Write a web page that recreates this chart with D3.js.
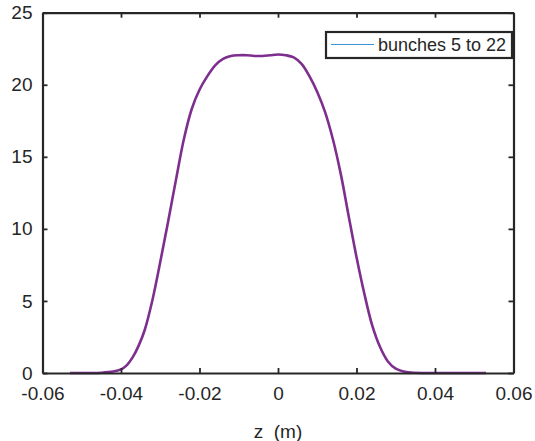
<!DOCTYPE html>
<html><head><meta charset="utf-8">
<script src="https://cdn.jsdelivr.net/npm/d3@7"></script>
<style>body{margin:0;background:#fff}svg{display:block}text{font-family:"Liberation Sans",Arial,Helvetica,sans-serif;fill:#262626}</style>
</head><body>
<script>
const zValues = [-0.053,-0.048,-0.045,-0.042,-0.040,-0.0385,-0.037,-0.0355,-0.034,-0.032,-0.030,-0.028,-0.026,-0.024,-0.022,-0.020,-0.018,-0.016,-0.014,-0.012,-0.010,-0.008,-0.006,-0.004,-0.002,0,0.002,0.004,0.006,0.008,0.010,0.012,0.014,0.016,0.018,0.020,0.022,0.024,0.026,0.028,0.030,0.032,0.034,0.037,0.045,0.053];
const densityValues = [0,0,0.02,0.1,0.25,0.55,1.1,1.9,2.95,5.05,7.7,10.5,13.4,16.2,18.3,19.65,20.6,21.35,21.8,22.0,22.05,22.05,22.0,22.0,22.05,22.1,22.05,21.9,21.45,20.6,19.5,18.1,16.2,13.8,10.9,8.05,5.5,3.3,1.8,0.8,0.3,0.1,0.03,0,0,0];
const xTicks = [-0.06,-0.04,-0.02,0,0.02,0.04,0.06];
const xTickLabels = ["-0.06","-0.04","-0.02","0","0.02","0.04","0.06"];
const yTicks = [0,5,10,15,20,25];
const yTickLabels = ["0","5","10","15","20","25"];
const legendLabel = "bunches 5 to 22";
const xLabel = "z  (m)";

(function(){
const W = 535, H = 441;
const m = {l:42.5, r:21.5, t:12.7, b:68};
const svg = d3.select("body").append("svg").attr("width",W).attr("height",H);
const x = d3.scaleLinear().domain([-0.06,0.06]).range([m.l, W-m.r]);
const y = d3.scaleLinear().domain([0,25]).range([H-m.b, m.t]);
const ax = "#262626", fs = "19px";

const line = d3.line().x((d,i)=>x(zValues[i])).y(d=>y(Math.max(0,d))).curve(d3.curveCatmullRom.alpha(0.5));
svg.append("path").datum(densityValues).attr("d",line)
  .attr("fill","none").attr("stroke","#7E2F8E").attr("stroke-width",2.6);

const tl = 5;
const axB = d3.axisBottom(x).tickValues(xTicks).tickFormat((d,i)=>xTickLabels[i]).tickSizeInner(-tl).tickSizeOuter(0).tickPadding(14);
const axT = d3.axisTop(x).tickValues(xTicks).tickFormat("").tickSizeInner(-tl).tickSizeOuter(0);
const axL = d3.axisLeft(y).tickValues(yTicks).tickFormat((d,i)=>yTickLabels[i]).tickSizeInner(-tl).tickSizeOuter(0).tickPadding(10);
const axR = d3.axisRight(y).tickValues(yTicks).tickFormat("").tickSizeInner(-tl).tickSizeOuter(0);
function style(g){
  g.selectAll(".domain").attr("stroke",ax).attr("stroke-width",2.2);
  g.selectAll(".tick line").attr("stroke",ax).attr("stroke-width",1.8);
  g.selectAll(".tick text").attr("font-size",fs).style("font-size",fs).attr("fill",ax).style("font-family",'"Liberation Sans",Arial,sans-serif');
}
svg.append("g").attr("transform",`translate(0,${y(0)})`).call(axB).call(style);
svg.append("g").attr("transform",`translate(0,${y(25)})`).call(axT).call(style);
svg.append("g").attr("transform",`translate(${x(-0.06)},0)`).call(axL).call(style);
svg.append("g").attr("transform",`translate(${x(0.06)},0)`).call(axR).call(style);

svg.append("text").attr("x",(x(-0.06)+x(0.06))/2).attr("y",438).attr("text-anchor","middle")
  .style("font-size","19px").style("white-space","pre").text(xLabel);

const lg = svg.append("g");
lg.append("rect").attr("x",326).attr("y",32).attr("width",186).attr("height",26)
  .attr("fill","#fff").attr("stroke",ax).attr("stroke-width",2.2);
lg.append("line").attr("x1",331).attr("x2",374).attr("y1",44.5).attr("y2",44.5)
  .attr("stroke","#3a94d6").attr("stroke-width",1.2);
lg.append("text").attr("x",378).attr("y",51).style("font-size","18px").text(legendLabel);
})();
</script>
</body></html>
